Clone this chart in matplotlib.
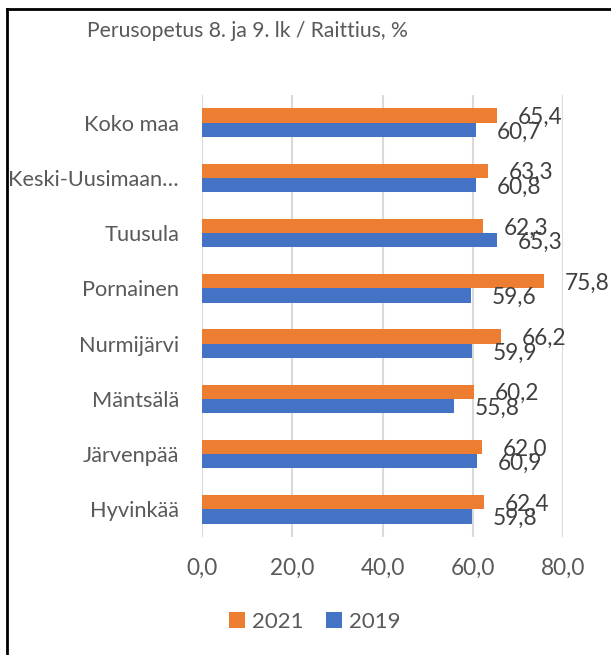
import matplotlib
matplotlib.use("Agg")
import matplotlib.pyplot as plt
from matplotlib.lines import Line2D
import numpy as np

categories = ["Koko maa", "Keski-Uusimaan…", "Tuusula", "Pornainen",
              "Nurmijärvi", "Mäntsälä", "Järvenpää", "Hyvinkää"]
values_2021 = [65.4, 63.3, 62.3, 75.8, 66.2, 60.2, 62.0, 62.4]
values_2019 = [60.7, 60.8, 65.3, 59.6, 59.9, 55.8, 60.9, 59.8]
xticks = [0, 20, 40, 60, 80]
title = "Perusopetus 8. ja 9. lk / Raittius, %"

plt.rcParams['font.family'] = ['Lato', 'DejaVu Sans']

W, H = 611, 655
fig = plt.figure(figsize=(W / 100, H / 100), dpi=100)
ax = fig.add_axes([202 / W, 1 - 537 / H, (563 - 202) / W, (537 - 95) / H])

orange = "#ED7D31"
blue = "#4472C4"
txt = "#595959"
num_fs = 16.3
cat_fs = 15.7

y = np.arange(len(categories))
bh = 0.26
ax.barh(y - bh / 2, values_2021, height=bh, color=orange, label="2021", zorder=3)
ax.barh(y + bh / 2, values_2019, height=bh, color=blue, label="2019", zorder=3)

for yi, v in zip(y - bh / 2, values_2021):
    ax.annotate(f"{v:.1f}".replace(".", ","), (v, yi), xytext=(15, -1.5),
                textcoords="offset points", ha="left", va="center",
                fontsize=num_fs, color="#404040", zorder=4)
for yi, v in zip(y + bh / 2, values_2019):
    ax.annotate(f"{v:.1f}".replace(".", ","), (v, yi), xytext=(15, -1.5),
                textcoords="offset points", ha="left", va="center",
                fontsize=num_fs, color="#404040", zorder=4)

ax.set_xlim(0, 80)
ax.set_ylim(len(categories) - 0.5, -0.5)
ax.set_xticks(xticks)
ax.set_xticklabels([f"{t:.1f}".replace(".", ",") for t in xticks], fontsize=num_fs, color=txt)
ax.set_yticks(y)
ax.set_yticklabels(categories, fontsize=cat_fs, color=txt)
ax.tick_params(axis="y", length=0, pad=16.5)
ax.tick_params(axis="x", length=0, pad=15)
for s in ax.spines.values():
    s.set_visible(False)
ax.grid(axis="x", color="#D9D9D9", linewidth=1.5, zorder=0)

fig.text(247 / W, 1 - 31 / H, title, ha="center", va="center", fontsize=15.2, color=txt)

handles, labels = ax.get_legend_handles_labels()
fig.legend(handles, labels, loc="center", bbox_to_anchor=(315 / W, 1 - 622 / H),
           ncol=2, frameon=False, fontsize=16, labelcolor=txt,
           handlelength=0.7, handleheight=0.7, handletextpad=0.35, columnspacing=1.0)

# figure border (left and top)
fig.add_artist(Line2D([7 / W, 7 / W], [0, 1 - 9 / H], transform=fig.transFigure, color="black", lw=2))
fig.add_artist(Line2D([7 / W, 1], [1 - 9 / H, 1 - 9 / H], transform=fig.transFigure, color="black", lw=2))

fig.savefig("out.png", dpi=100)
